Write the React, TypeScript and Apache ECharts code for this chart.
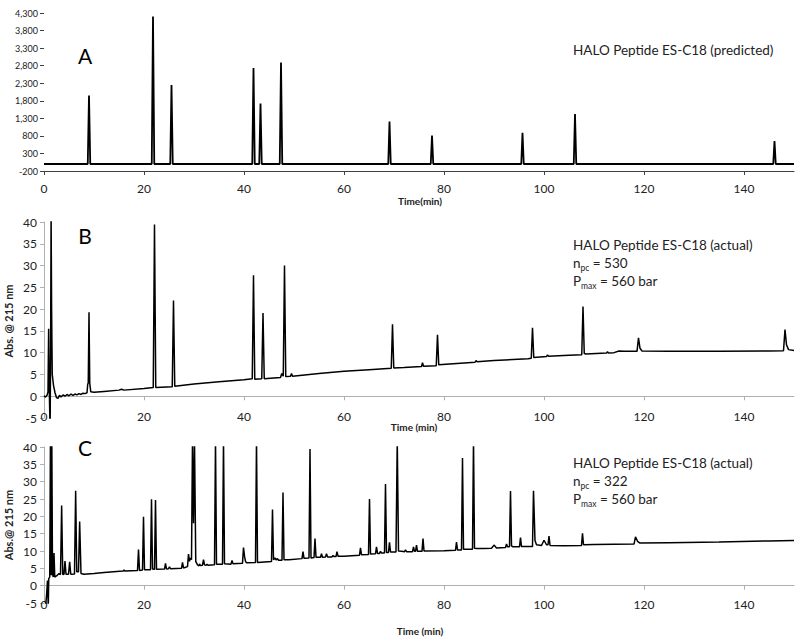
import React, { useEffect, useRef } from "react";
import * as echarts from "echarts";

// ---------- data ----------
const xTickValues = [0, 20, 40, 60, 80, 100, 120, 140];
const panelLetters = ["A", "B", "C"];
const titlePredicted = "HALO Peptide ES-C18 (predicted)";
const titleActual = "HALO Peptide ES-C18 (actual)";
const npcValues = [530, 322];
const pmaxValue = 560;
const xAxisNames = ["Time(min)", "Time (min)", "Time (min)"];
const yAxisNames = ["Abs. @ 215 nm", "Abs.@ 215 nm"];

// A: predicted chromatogram [time(min), signal]
const traceA: [number, number][] = [
  [0, 0], [8.75, 0], [9.0, 1950], [9.25, 0],
  [21.55, 0], [21.8, 4200], [22.05, 0],
  [25.25, 0], [25.5, 2250], [25.75, 0],
  [41.65, 0], [41.9, 2730], [42.15, 0],
  [43.05, 0], [43.3, 1720], [43.55, 0],
  [47.15, 0], [47.4, 2890], [47.65, 0],
  [68.85, 0], [69.1, 1210], [69.35, 0],
  [77.35, 0], [77.6, 810], [77.85, 0],
  [95.45, 0], [95.7, 890], [95.95, 0],
  [105.95, 0], [106.2, 1420], [106.45, 0],
  [145.85, 0], [146.1, 650], [146.35, 0], [150, 0],
];

// B: actual chromatogram, n_pc = 530
const traceB: [number, number][] = [
  [0, 0.1], [0.3, -0.2], [0.6, 0.2], [0.8, 1.0], [0.93, 15.5], [1.05, 2], [1.22, -8],
  [1.32, 10], [1.42, 42], [1.52, 20], [1.65, 5], [1.9, 2.5], [2.2, 0.8], [2.5, -0.3],
  [2.8, -0.5], [3.1, 0.2], [3.4, -0.2], [3.8, 0.3], [4.2, 0], [4.6, 0.4], [5.0, 0.1],
  [5.4, 0.5], [5.8, 0.2], [6.2, 0.5], [6.6, 0.3], [7.0, 0.6], [7.4, 0.4], [7.8, 0.7],
  [8.2, 0.6], [8.6, 0.8], [8.75, 2.8], [8.85, 3.0], [9.0, 19.3], [9.15, 3], [9.35, 1.0],
  [10, 0.9], [12, 1.1], [15, 1.4], [15.5, 1.6], [16, 1.4], [20, 1.8],
  [21.85, 2.0], [22.1, 39.4], [22.35, 2.0],
  [25.65, 2.2], [25.9, 22.0], [26.15, 2.3],
  [30, 2.8], [35, 3.3], [40, 3.8],
  [41.65, 4.0], [41.9, 27.8], [42.15, 3.9],
  [43.55, 4.0], [43.8, 19.1], [44.05, 4.0],
  [47.3, 4.3], [47.55, 5.2], [47.85, 4.6], [48.1, 30.0], [48.35, 4.5],
  [49.3, 4.6], [49.5, 5.2], [49.7, 4.6],
  [55, 5.2], [60, 5.75], [65, 6.1],
  [69.45, 6.4], [69.7, 16.5], [69.95, 6.5],
  [72, 6.6], [75.5, 6.8], [75.7, 7.7], [75.9, 6.9],
  [78.45, 7.0], [78.7, 14.1], [78.95, 7.2],
  [86.2, 7.8], [86.4, 8.2], [86.6, 7.9], [90, 8.2], [96.8, 8.6],
  [97.45, 8.7], [97.7, 15.7], [97.95, 8.9],
  [100.5, 9.1], [100.7, 9.5], [100.9, 9.2], [105, 9.4],
  [107.55, 9.5], [107.8, 20.6], [108.05, 9.8], [108.4, 9.7],
  [112.5, 9.9], [112.7, 10.2], [112.9, 9.9], [114, 10.0], [115, 10.4], [116, 10.3],
  [118.6, 10.3], [118.9, 13.4], [119.2, 11.0], [119.6, 10.4],
  [125, 10.35], [135, 10.35], [145, 10.4],
  [147.9, 10.45], [148.2, 15.3], [148.5, 11.8], [148.9, 10.7], [150, 10.5],
];

// C: actual chromatogram, n_pc = 322
const traceC: [number, number][] = [
  [0.3, -6], [0.5, -3], [0.7, 1.5], [0.85, -6], [0.95, 2.0], [1.15, 2.5], [1.3, 45],
  [1.45, 3], [1.55, 45], [1.7, 3.5], [1.85, 2.5], [2.0, 9.4], [2.15, 2.5], [2.5, 2.8],
  [3.0, 3.5], [3.3, 3.2], [3.53, 23.1], [3.75, 3.2], [4.0, 3.3], [4.2, 7.1], [4.4, 3.3],
  [4.9, 3.3], [5.13, 6.9], [5.35, 3.3], [6.1, 3.4], [6.33, 27.4], [6.55, 4], [6.9, 4],
  [7.13, 18.5], [7.4, 3.5], [8, 3.3], [10, 3.5], [12, 3.8], [15.8, 4.2], [16, 4.5],
  [16.2, 4.2], [18.7, 4.4], [18.9, 10.4], [19.1, 4.4], [19.7, 4.5], [19.9, 19.9],
  [20.1, 4.6], [21.3, 4.6], [21.5, 24.9], [21.7, 4.8], [22.1, 4.7], [22.3, 24.7],
  [22.5, 4.7], [24.1, 4.8], [24.3, 6.4], [24.5, 4.8], [24.9, 4.9], [25.1, 5.4],
  [25.3, 4.9], [27.5, 5.0], [27.7, 6.7], [27.9, 5.1], [28.7, 5.5], [28.9, 9.1],
  [29.1, 7], [29.25, 8], [29.5, 7.5], [29.7, 42], [29.9, 18], [30.1, 42], [30.35, 7],
  [30.7, 6], [31.0, 5.7], [31.1, 6.3], [31.3, 5.8], [31.7, 5.9], [31.9, 7.5], [32.1, 6],
  [32.4, 5.9], [32.6, 6.2], [32.8, 5.9], [34.1, 6.0], [34.3, 42], [34.5, 6.2],
  [35.7, 6.2], [35.9, 42], [36.1, 6.3], [37.4, 6.2], [37.6, 7.3], [37.8, 6.3],
  [39.7, 6.5], [39.9, 11.0], [40.1, 8.5], [40.3, 7], [40.5, 6.6], [42.3, 6.7],
  [42.5, 42], [42.7, 6.7], [45.5, 7.0], [45.7, 22.0], [45.9, 7.5], [46.2, 8.0],
  [46.4, 7.4], [46.7, 7.8], [46.9, 7.3], [47.6, 7.3], [47.8, 26.9], [48.0, 7.5],
  [49, 7.5], [51.6, 7.8], [51.8, 9.8], [52.0, 7.9], [53.0, 8.0], [53.2, 39.4],
  [53.4, 8.0], [54.0, 8.1], [54.2, 13.6], [54.4, 8.2], [55.3, 8.2], [55.5, 9.2],
  [55.7, 8.2], [56.3, 8.3], [56.5, 9.2], [56.7, 8.3], [57.6, 8.3], [57.8, 8.7],
  [58.0, 8.4], [58.4, 8.4], [58.6, 9.8], [58.8, 8.5], [60, 8.5], [63.1, 8.8],
  [63.3, 10.9], [63.5, 8.9], [64.9, 9.0], [65.1, 25.0], [65.3, 9.1], [66.3, 9.2],
  [66.5, 11.2], [66.7, 9.3], [67.1, 9.3], [67.3, 9.9], [67.5, 9.4], [68.1, 9.4],
  [68.3, 29.3], [68.5, 9.6], [68.9, 9.6], [69.1, 12.5], [69.3, 9.7], [70.4, 9.7],
  [70.65, 42], [70.9, 10], [71.5, 9.9], [72.1, 9.8], [72.3, 10.3], [72.5, 9.8],
  [73.7, 9.8], [73.9, 11.2], [74.1, 9.9], [74.3, 9.9], [74.5, 11.7], [74.7, 9.9],
  [75.6, 9.9], [75.8, 13.6], [76.0, 10.0], [80, 10.1], [82.3, 10.2], [82.5, 12.6],
  [82.7, 10.3], [83.5, 10.3], [83.7, 36.8], [83.9, 10.5], [85.7, 10.5], [85.9, 42],
  [86.1, 10.8], [86.5, 10.7], [88, 10.7], [89.5, 10.8], [90.0, 11.7], [90.5, 10.9],
  [92.3, 11.0], [92.5, 12.0], [92.7, 11.2], [93.1, 11.2], [93.3, 27.3], [93.5, 11.5],
  [93.8, 11.2], [95.1, 11.2], [95.3, 13.9], [95.5, 11.3], [97.7, 11.3], [97.9, 27.4],
  [98.2, 13], [98.5, 11.8], [99.5, 11.6], [100.0, 13.1], [100.5, 11.8], [100.8, 11.8],
  [101.0, 14.3], [101.2, 11.6], [104, 11.5], [107.5, 11.6], [107.7, 15.1],
  [107.9, 11.8], [110, 11.9], [118.0, 12.0], [118.3, 14.1], [118.7, 12.8],
  [119.2, 12.3], [125, 12.4], [135, 12.6], [145, 12.9], [150, 13.0],
];

// ---------- layout ----------
const FONT = "Lato, 'Open Sans', sans-serif";
const GRID_LEFT = 44;
const GRID_WIDTH = 750;
const grids = [
  { top: 13, height: 158 },
  { top: 222, height: 196 },
  { top: 447, height: 156 },
];
const xLabelMargins = [11, -8, -5];

function fmtThousands(v: number): string {
  const s = Math.abs(v).toString().replace(/\B(?=(\d{3})+(?!\d))/g, ",");
  return v < 0 ? "-" + s : s;
}

export default function App() {
  const ref = useRef<HTMLDivElement>(null);
  useEffect(() => {
    if (!ref.current) return;
    const chart = echarts.init(ref.current, undefined, { renderer: "svg" });

    const xAxes = grids.map((_, i) => ({
      type: "value",
      gridIndex: i,
      min: 0,
      max: 150,
      axisLine: {
        show: true,
        onZero: i !== 0,
        lineStyle: { color: i === 0 ? "#404040" : "#b0b0b0", width: 1 },
      },
      axisTick: {
        show: true,
        customValues: xTickValues,
        length: 4,
        lineStyle: { color: i === 0 ? "#404040" : "#b0b0b0" },
      },
      axisLabel: {
        customValues: xTickValues,
        margin: xLabelMargins[i],
        fontSize: 12,
        fontFamily: FONT,
        color: "#222",
      },
      splitLine: { show: false },
    }));

    const yAxes = grids.map((_, i) =>
      i === 0
        ? {
            type: "value",
            gridIndex: 0,
            min: -200,
            max: 4300,
            interval: 500,
            axisLine: { show: false },
            axisTick: { show: true, length: 4, lineStyle: { color: "#404040" } },
            axisLabel: {
              fontSize: 9,
              fontFamily: FONT,
              color: "#222",
              margin: 6,
              formatter: (v: number) => fmtThousands(v),
            },
            splitLine: { show: false },
          }
        : {
            type: "value",
            gridIndex: i,
            min: -5,
            max: 40,
            interval: 5,
            axisLine: { show: true, onZero: false, lineStyle: { color: "#b0b0b0" } },
            axisTick: { show: true, length: 4, lineStyle: { color: "#b0b0b0" } },
            axisLabel: { fontSize: 12, fontFamily: FONT, color: "#222", margin: 7 },
            splitLine: { show: false },
          }
    );

    const traces = [traceA, traceB, traceC];
    const series = traces.map((d, i) => ({
      type: "line",
      xAxisIndex: i,
      yAxisIndex: i,
      data: d,
      showSymbol: false,
      symbol: "none",
      clip: true,
      silent: true,
      lineStyle: { color: "#000", width: i === 0 ? 1.8 : 1.5 },
    }));

    const letterPos = [
      [85, 55],
      [85, 235],
      [85, 447],
    ];
    const letters = panelLetters.map((t, i) => ({
      type: "text",
      x: letterPos[i][0],
      y: letterPos[i][1],
      style: {
        text: t,
        fontSize: 21,
        fontFamily: FONT,
        fill: "#000",
        align: "center",
        verticalAlign: "middle",
      },
    }));

    const annStyle = {
      fontSize: 13.5,
      fontFamily: FONT,
      fill: "#222",
      align: "left",
      verticalAlign: "middle",
    };
    const richSub = {
      n: { fontSize: 13.5, fontFamily: FONT, color: "#222", lineHeight: 18 },
      s: {
        fontSize: 8.5,
        fontFamily: FONT,
        color: "#222",
        lineHeight: 8,
        verticalAlign: "bottom",
      },
    };
    const annTexts: any[] = [
      { type: "text", x: 573, y: 50, style: { ...annStyle, text: titlePredicted } },
    ];
    const annBase = [245, 463];
    npcValues.forEach((npc, k) => {
      const y0 = annBase[k];
      annTexts.push(
        { type: "text", x: 573, y: y0, style: { ...annStyle, text: titleActual } },
        {
          type: "text",
          x: 573,
          y: y0 + 18,
          style: { ...annStyle, text: `{n|n}{s|pc}{n| = ${npc}}`, rich: richSub },
        },
        {
          type: "text",
          x: 573,
          y: y0 + 36,
          style: {
            ...annStyle,
            text: `{n|P}{s|max}{n| = ${pmaxValue} bar}`,
            rich: richSub,
          },
        }
      );
    });

    const xNamePos = [
      [420, 201],
      [414, 427],
      [420, 631],
    ];
    const xNames = xAxisNames.map((t, i) => ({
      type: "text",
      x: xNamePos[i][0],
      y: xNamePos[i][1],
      style: {
        text: t,
        fontSize: 10,
        fontWeight: "bold",
        fontFamily: FONT,
        fill: "#222",
        align: "center",
        verticalAlign: "middle",
      },
    }));
    const yNamePos = [321, 525];
    const yNames = yAxisNames.map((t, i) => ({
      type: "text",
      x: 8,
      y: yNamePos[i],
      rotation: Math.PI / 2,
      style: {
        text: t,
        fontSize: 11,
        fontWeight: "bold",
        fontFamily: FONT,
        fill: "#222",
        align: "center",
        verticalAlign: "middle",
      },
    }));

    chart.setOption({
      animation: false,
      backgroundColor: "#fff",
      grid: grids.map((g) => ({
        left: GRID_LEFT,
        top: g.top,
        width: GRID_WIDTH,
        height: g.height,
        containLabel: false,
      })),
      xAxis: xAxes,
      yAxis: yAxes,
      series,
      graphic: [...letters, ...annTexts, ...xNames, ...yNames],
    } as any);

    return () => chart.dispose();
  }, []);

  return (
    <div
      ref={ref}
      style={{ position: "fixed", left: 0, top: 0, width: 800, height: 639, background: "#fff" }}
    />
  );
}
